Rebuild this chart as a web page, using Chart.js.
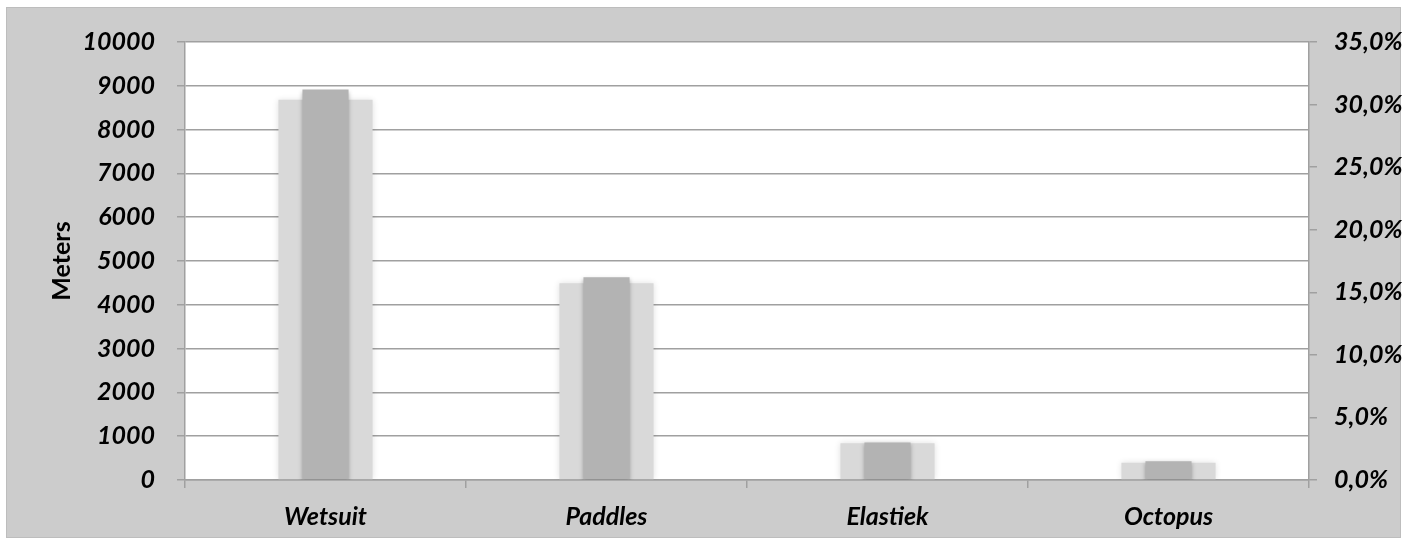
<!DOCTYPE html>
<html>
<head>
<meta charset="utf-8">
<script src="https://cdn.jsdelivr.net/npm/chart.js@4/dist/chart.umd.min.js"></script>
<style>
    html, body { margin: 0; padding: 0; background: #ffffff; }
    #wrap { position: relative; width: 1407px; height: 544px; }
</style>
</head>
<body>
<div id="wrap"><canvas id="chart" width="1407" height="544"></canvas></div>
<script>
// Data
const categories = ['Wetsuit', 'Paddles', 'Elastiek', 'Octopus'];
const meters = [8680, 4490, 840, 395];
const sharePct = [31.2, 16.2, 3.0, 1.5];

// Frame + white plot area
const backgroundPlugin = {
    id: 'background',
    beforeDraw(chart) {
        const { ctx, chartArea } = chart;
        ctx.save();
        ctx.fillStyle = '#ffffff';
        ctx.fillRect(0, 0, chart.width, chart.height);
        ctx.fillStyle = '#cccccc';
        ctx.fillRect(6, 7, 1395, 531);
        ctx.strokeStyle = '#bdbdbd';
        ctx.lineWidth = 1;
        ctx.strokeRect(6.5, 7.5, 1394, 530);
        ctx.fillStyle = '#ffffff';
        ctx.fillRect(chartArea.left, chartArea.top, chartArea.right - chartArea.left, chartArea.bottom - chartArea.top);
        ctx.restore();
    }
};

// Soft shadow like the office bars
const shadowPlugin = {
    id: 'barShadow',
    beforeDatasetDraw(chart, args) {
        const ctx = chart.ctx;
        ctx.save();
        ctx.shadowColor = args.index === 0 ? 'rgba(0,0,0,0.12)' : 'rgba(0,0,0,0.25)';
        ctx.shadowBlur = args.index === 0 ? 6 : 4;
        ctx.shadowOffsetY = args.index === 0 ? 0 : 2;
    },
    afterDatasetDraw(chart) {
        chart.ctx.restore();
    }
};

const tickFont = { family: 'Lato', size: 25, weight: 'bold', style: 'italic' };
const gridColor = '#a0a0a0';

new Chart(document.getElementById('chart').getContext('2d'), {
    type: 'bar',
    data: {
        labels: categories,
        datasets: [
            {
                label: 'Meters',
                data: meters,
                yAxisID: 'y',
                backgroundColor: '#d9d9d9',
                barPercentage: 0.335,
                categoryPercentage: 1,
                grouped: false,
                order: 2
            },
            {
                label: 'Percentage',
                data: sharePct,
                yAxisID: 'y1',
                backgroundColor: '#b3b3b3',
                barPercentage: 0.164,
                categoryPercentage: 1,
                grouped: false,
                order: 1
            }
        ]
    },
    options: {
        responsive: false,
        animation: false,
        layout: { padding: { top: 42, left: 0, right: 0, bottom: 0 } },
        plugins: {
            legend: { display: false },
            tooltip: { enabled: false }
        },
        scales: {
            x: {
                afterFit(scale) { scale.height = 64; },
                grid: { drawOnChartArea: false, drawTicks: true, tickLength: 8, color: gridColor, lineWidth: 1.5, offset: true },
                border: { color: gridColor, width: 1.5 },
                ticks: { color: '#000000', font: tickFont, padding: 14 }
            },
            y: {
                position: 'left',
                min: 0,
                max: 10000,
                afterFit(scale) { scale.width = 185; },
                grid: { color: gridColor, lineWidth: 1.5, tickLength: 8 },
                border: { color: gridColor, width: 1.5 },
                ticks: { stepSize: 1000, color: '#000000', font: tickFont, padding: 22, callback: v => String(v) },
                title: {
                    display: true,
                    text: 'Meters',
                    color: '#000000',
                    font: { family: 'Lato', size: 25, weight: 'bold' },
                    padding: { top: 47, bottom: 0 }
                }
            },
            y1: {
                position: 'right',
                min: 0,
                max: 35,
                afterFit(scale) { scale.width = 98; },
                grid: { drawOnChartArea: false, color: gridColor, lineWidth: 1.5, tickLength: 8 },
                border: { color: gridColor, width: 1.5 },
                ticks: {
                    stepSize: 5,
                    color: '#000000',
                    font: tickFont,
                    padding: 17,
                    callback: v => v.toFixed(1).replace('.', ',') + '%'
                }
            }
        }
    },
    plugins: [backgroundPlugin, shadowPlugin]
});
</script>
</body>
</html>
